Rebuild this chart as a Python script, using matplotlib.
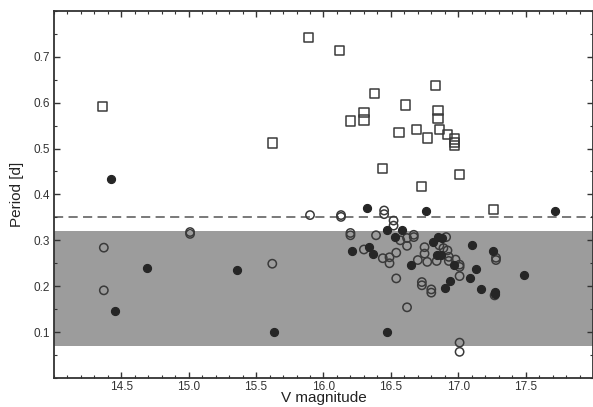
# -*- coding: utf-8 -*-

import numpy as np
import matplotlib.pyplot as plt
from matplotlib.ticker import MultipleLocator

plt.rcParams['font.family'] = ['Liberation Sans', 'DejaVu Sans']

# long period stars (open squares)
sq_v = [14.36, 15.62, 15.89, 16.12, 16.83, 16.38, 16.61, 16.30, 16.85, 16.30,
        16.20, 16.85, 16.69, 16.86, 16.56, 16.77, 16.92, 16.97, 16.97, 16.97,
        16.44, 17.01, 16.73, 17.26]
sq_p = [0.592, 0.512, 0.742, 0.713, 0.638, 0.620, 0.595, 0.579, 0.583, 0.562,
        0.560, 0.565, 0.541, 0.541, 0.535, 0.523, 0.530, 0.521, 0.513, 0.506,
        0.457, 0.444, 0.418, 0.367]

# open circles
oc_v = [14.37, 14.37, 15.01, 15.01, 15.62, 15.90, 16.13, 16.13, 16.45, 16.45,
        16.52, 16.52, 16.20, 16.20, 16.39, 16.57, 16.62, 16.62, 16.67, 16.67,
        16.30, 16.54, 16.44, 16.49, 16.49, 16.70, 16.75, 16.75, 16.77, 16.91,
        16.86, 16.89, 16.84, 16.92, 16.93, 16.93, 16.98, 17.01, 17.01, 17.01,
        17.28, 17.28, 16.54, 16.73, 16.73, 16.80, 16.80, 16.62, 17.01, 17.01,
        17.27]
oc_p = [0.284, 0.191, 0.318, 0.314, 0.249, 0.355, 0.355, 0.351, 0.365, 0.357,
        0.343, 0.332, 0.316, 0.311, 0.311, 0.300, 0.305, 0.288, 0.312, 0.307,
        0.280, 0.273, 0.261, 0.263, 0.250, 0.257, 0.285, 0.271, 0.253, 0.307,
        0.289, 0.283, 0.255, 0.278, 0.264, 0.255, 0.258, 0.247, 0.242, 0.222,
        0.262, 0.257, 0.217, 0.209, 0.202, 0.193, 0.186, 0.154, 0.077, 0.057,
        0.180]

# filled circles
fc_v = [14.42, 14.69, 14.45, 15.36, 15.63, 16.32, 16.76, 17.72, 16.47, 16.58,
        16.53, 16.21, 16.34, 16.37, 16.65, 16.81, 16.85, 16.88, 16.84, 16.87,
        16.97, 17.10, 17.13, 17.09, 17.26, 17.49, 17.17, 17.27, 17.27, 16.94,
        16.90, 16.47]
fc_p = [0.433, 0.239, 0.147, 0.235, 0.101, 0.371, 0.363, 0.363, 0.323, 0.323,
        0.308, 0.277, 0.285, 0.271, 0.246, 0.296, 0.307, 0.304, 0.269, 0.267,
        0.247, 0.290, 0.238, 0.218, 0.277, 0.224, 0.193, 0.187, 0.182, 0.211,
        0.197, 0.101]

# shaded period range and dividing line
band_lo, band_hi = 0.07, 0.32
p_cut = 0.35

fig = plt.figure(figsize=(5.93, 4.07), dpi=100)
ax = fig.add_axes([0.091, 0.0713, 0.909, 0.902])

ax.axhspan(band_lo, band_hi, color='#9c9c9c', lw=0, zorder=0)
ax.axhline(p_cut, color='#555555', lw=1.1, ls=(0, (6, 3.5)), zorder=1)

ax.scatter(sq_v, sq_p, s=44, marker='s', facecolors='none',
           edgecolors='#3a3a3a', linewidths=1.1, zorder=3)
ax.scatter(oc_v, oc_p, s=36, marker='o', facecolors='none',
           edgecolors='#3a3a3a', linewidths=1.1, zorder=3)
ax.scatter(fc_v, fc_p, s=34, marker='o', facecolors='#262626',
           edgecolors='#262626', linewidths=0.8, zorder=4)

ax.set_xlim(14.0, 18.0)
ax.set_ylim(0.0, 0.8)
ax.set_xticks([14.5, 15.0, 15.5, 16.0, 16.5, 17.0, 17.5])
ax.set_yticks([0.1, 0.2, 0.3, 0.4, 0.5, 0.6, 0.7])
ax.xaxis.set_minor_locator(MultipleLocator(0.1))
ax.yaxis.set_minor_locator(MultipleLocator(0.05))
ax.tick_params(which='both', direction='in', top=True, right=True,
               colors='#333333', labelsize=8.5, pad=3)
ax.tick_params(axis='x', pad=2)
ax.tick_params(which='major', length=4, width=1.0)
ax.tick_params(which='minor', length=2.5, width=0.8)
for sp in ax.spines.values():
    sp.set_color('#333333')
    sp.set_linewidth(1.3)

ax.set_xlabel('V magnitude', fontsize=11, color='#222222', labelpad=-1)
ax.set_ylabel('Period [d]', fontsize=11, color='#222222', labelpad=7)

fig.savefig('out.png', dpi=100)
